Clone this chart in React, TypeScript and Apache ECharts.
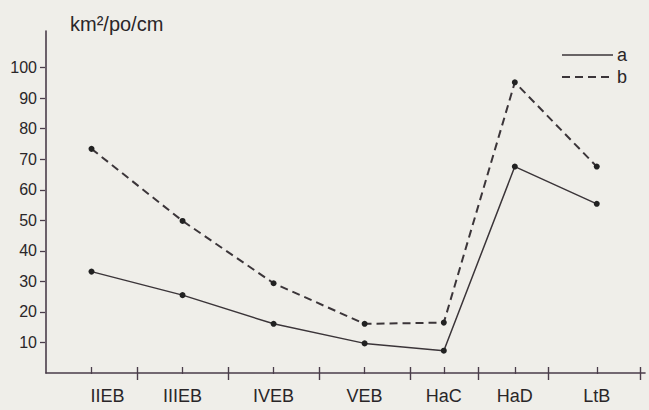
import React, { useEffect, useRef } from "react";
import * as echarts from "echarts";

const categories = ["IIEB", "IIIEB", "IVEB", "VEB", "HaC", "HaD", "LtB"];
const categoryPositions = [0.5, 1.5, 2.5, 3.5, 4.37, 5.15, 6.05];
const periodBoundaries = [1, 2, 3, 4, 4.75, 5.52, 6.53];
const seriesA = [33.2, 25.5, 16.1, 9.7, 7.3, 67.6, 55.4];
const seriesB = [73.4, 49.8, 29.4, 16.1, 16.5, 95.2, 67.6];
const yTickValues = [10, 20, 30, 40, 50, 60, 70, 80, 90, 100];
const yAxisName = "km²/po/cm";
const legendNames = ["a", "b"];

const INK = "#3b3539";
const AXIS = "#4a3d4a";
const BG = "#efeee9";
const TEXT = "#2a2628";
const FONT = "'Liberation Sans', Arial, sans-serif";

export default function App() {
  const ref = useRef<HTMLDivElement>(null);
  useEffect(() => {
    document.body.style.margin = "0";
    const chart = echarts.init(ref.current!, null, { renderer: "svg" });
    const xMax = 6.58;
    const yMax = 112;
    const baseX = {
      type: "value",
      position: "bottom",
      min: 0,
      max: xMax,
      splitLine: { show: false },
    };
    const baseY = {
      type: "value",
      position: "left",
      min: 0,
      max: yMax,
      splitLine: { show: false },
    };
    chart.setOption({
      animation: false,
      backgroundColor: BG,
      grid: { left: 46, right: 4, top: 31, bottom: 37 },
      xAxis: [
        {
          ...baseX,
          axisLine: { show: true, onZero: false, lineStyle: { color: AXIS, width: 1.6 } },
          axisTick: { show: false },
          axisLabel: {
            show: true,
            customValues: categoryPositions,
            margin: 14,
            fontSize: 18,
            fontFamily: FONT,
            color: TEXT,
            formatter: (v: number) => {
              const i = categoryPositions.findIndex((p) => Math.abs(p - v) < 1e-6);
              if (i < 0) return "";
              return i === 0 ? "{first|" + categories[i] + "}" : categories[i];
            },
            rich: {
              first: { fontSize: 18, fontFamily: FONT, color: TEXT, padding: [0, 0, 0, 32] },
            },
          },
        },
        {
          ...baseX,
          offset: 1,
          axisLine: { show: false, onZero: false },
          axisTick: {
            show: true,
            inside: true,
            length: 7,
            customValues: categoryPositions,
            lineStyle: { color: AXIS, width: 1.3 },
          },
          axisLabel: { show: false },
        },
        {
          ...baseX,
          offset: 7,
          axisLine: { show: false, onZero: false },
          axisTick: {
            show: true,
            inside: true,
            length: 13,
            customValues: periodBoundaries,
            lineStyle: { color: AXIS, width: 1.4 },
          },
          axisLabel: { show: false },
        },
      ],
      yAxis: [
        {
          ...baseY,
          axisLine: { show: true, onZero: false, lineStyle: { color: AXIS, width: 1.6 } },
          axisTick: { show: false },
          axisLabel: {
            show: true,
            customValues: yTickValues,
            margin: 9,
            fontSize: 16,
            fontFamily: FONT,
            color: TEXT,
            padding: [0, 0, 12, 0],
          },
        },
        {
          ...baseY,
          offset: 1,
          axisLine: { show: false, onZero: false },
          axisTick: {
            show: true,
            length: 5,
            customValues: yTickValues,
            lineStyle: { color: AXIS, width: 1.3 },
          },
          axisLabel: { show: false },
        },
      ],
      series: [
        {
          name: legendNames[0],
          type: "line",
          xAxisIndex: 0,
          yAxisIndex: 0,
          data: categoryPositions.map((x, i) => [x, seriesA[i]]),
          symbol: "circle",
          symbolSize: 6,
          itemStyle: { color: "#222" },
          lineStyle: { color: INK, width: 1.5 },
        },
        {
          name: legendNames[1],
          type: "line",
          xAxisIndex: 0,
          yAxisIndex: 0,
          data: categoryPositions.map((x, i) => [x, seriesB[i]]),
          symbol: "circle",
          symbolSize: 6,
          itemStyle: { color: "#222" },
          lineStyle: { color: INK, width: 2, type: [8, 5] },
        },
      ],
      graphic: [
        {
          type: "text",
          left: 70,
          top: 14,
          style: { text: yAxisName, fontSize: 20, fontFamily: FONT, fill: TEXT },
        },
        {
          type: "line",
          shape: { x1: 562, y1: 55, x2: 613, y2: 55 },
          style: { stroke: INK, lineWidth: 1.5 },
        },
        {
          type: "text",
          x: 617,
          y: 55,
          style: { text: legendNames[0], fontSize: 18, fontFamily: FONT, fill: TEXT, verticalAlign: "middle" },
        },
        {
          type: "line",
          shape: { x1: 562, y1: 77, x2: 613, y2: 77 },
          style: { stroke: INK, lineWidth: 2, lineDash: [8, 5] },
        },
        {
          type: "text",
          x: 617,
          y: 77,
          style: { text: legendNames[1], fontSize: 18, fontFamily: FONT, fill: TEXT, verticalAlign: "middle" },
        },
      ],
    });
    return () => chart.dispose();
  }, []);
  return (
    <div
      ref={ref}
      style={{ position: "absolute", left: 0, top: 0, width: 649, height: 410 }}
    />
  );
}
